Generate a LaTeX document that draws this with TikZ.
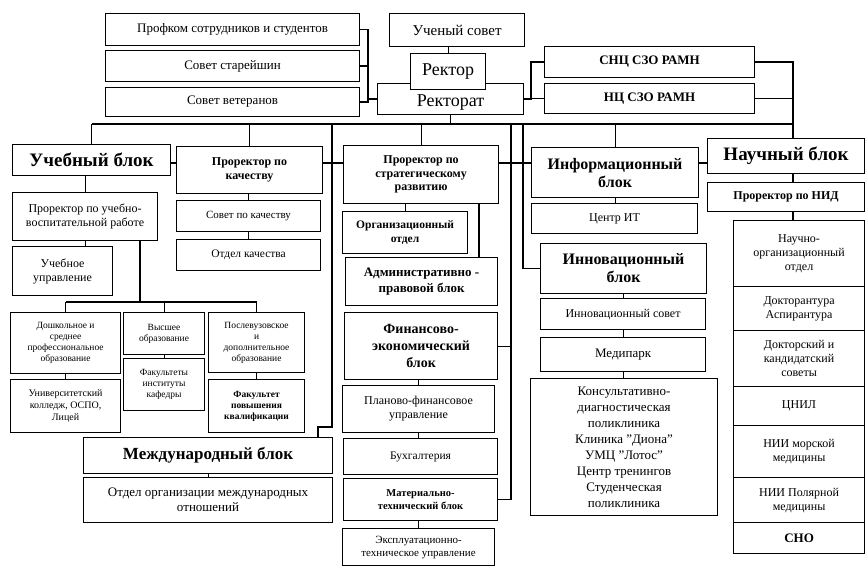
\documentclass[tikz,border=0pt]{standalone}
\usepackage{fontspec}
\setmainfont{Liberation Serif}
\tikzset{
  box/.style={draw, line width=1.1pt, align=center, anchor=north west, inner sep=1pt, font=\fontsize{12}{14}\selectfont},
  wh/.style 2 args={minimum width=#1pt, minimum height=#2pt},
  ln/.style={line width=1.1pt},
  top/.style={font=\fontsize{13}{15}\selectfont},
  big/.style={font=\bfseries\fontsize{19}{21}\selectfont},
  mid/.style={font=\bfseries\fontsize{16}{18}\selectfont},
  bsm/.style={font=\bfseries\fontsize{12}{13.5}\selectfont},
  sml/.style={font=\fontsize{9.5}{11}\selectfont}
}
\begin{document}
\begin{tikzpicture}[x=1pt,y=-1pt]
\useasboundingbox (0,0) rectangle (866,567);
%\draw[step=50,gray,very thin] (0,0) grid (866,567);
\node[box,wh={254}{32},top] (profkom) at (105,13) {Профком сотрудников и студентов};
\node[box,wh={254}{31},top] (starejshin) at (105,50) {Совет старейшин};
\node[box,wh={254}{29},top] (veteran) at (105,87) {Совет ветеранов};
\node[box,wh={135}{33},font=\fontsize{15}{17}\selectfont] (uchsovet) at (389,13) {Ученый совет};
\node[box,wh={146}{31},text height=15pt,text depth=0pt,font=\fontsize{18}{20}\selectfont] (rektorat) at (377,83) {Ректорат};
\node[box,wh={75}{36},fill=white,font=\fontsize{18}{20}\selectfont] (rektor) at (410,53) {Ректор};
\node[box,wh={210}{31},font=\bfseries\fontsize{13}{15}\selectfont] (sncszo) at (544,46) {СНЦ СЗО РАМН};
\node[box,wh={210}{30},font=\bfseries\fontsize{13}{15}\selectfont] (ncszo) at (544,83) {НЦ СЗО РАМН};

\node[box,wh={158}{31},big] (uchblok) at (12,144) {Учебный блок};
\node[box,wh={146}{47},bsm] (kachestvo) at (176,146) {Проректор по\\качеству};
\node[box,wh={155}{58},bsm] (strateg) at (343,145) {Проректор по\\стратегическому\\развитию};
\node[box,wh={167}{50},mid] (inform) at (531,147) {Информационный\\блок};
\node[box,wh={157}{35},big] (nauchblok) at (707,138) {Научный блок};

\node[box,wh={145}{48}] (uvr) at (12,192) {Проректор по учебно-\\воспитательной работе};
\node[box,wh={100}{49}] (uchupr) at (12,246) {Учебное\\управление};
\node[box,wh={144}{31},font=\fontsize{11}{13}\selectfont] (sovkach) at (176,200) {Совет по качеству};
\node[box,wh={144}{31},font=\fontsize{11.5}{13}\selectfont] (otdkach) at (176,239) {Отдел качества};
\node[box,wh={125}{42},font=\bfseries\fontsize{11.5}{14}\selectfont] (orgotd) at (342,211) {Организационный\\отдел};
\node[box,wh={152}{48},font=\bfseries\fontsize{13}{16}\selectfont] (admblok) at (345,257) {Административно -\\правовой блок};
\node[box,wh={153}{67},font=\bfseries\fontsize{14}{17}\selectfont] (finblok) at (344,312) {Финансово-\\экономический\\блок};
\node[box,wh={152}{47}] (planfin) at (342,385) {Планово-финансовое\\управление};
\node[box,wh={154}{36},font=\fontsize{11.5}{13}\selectfont] (buhgal) at (343,438) {Бухгалтерия};
\node[box,wh={154}{42},font=\bfseries\fontsize{10.5}{13}\selectfont] (mattech) at (343,478) {Материально-\\технический блок};
\node[box,wh={152}{37},font=\fontsize{11}{13}\selectfont] (ekspl) at (342,528) {Эксплуатационно-\\техническое управление};

\node[box,wh={166}{30}] (centrit) at (531,203) {Центр ИТ};
\node[box,wh={166}{50},mid] (innov) at (540,243) {Инновационный\\блок};
\node[box,wh={165}{31}] (innsovet) at (540,298) {Инновационный совет};
\node[box,wh={165}{34},font=\fontsize{13}{15}\selectfont] (medipark) at (540,337) {Медипарк};
\node[box,wh={187}{137},font=\fontsize{13}{16}\selectfont] (konsult) at (530,378) {Консультативно-\\диагностическая\\поликлиника\\Клиника "Диона"\\УМЦ "Лотос"\\Центр тренингов\\Студенческая\\поликлиника};

\node[box,wh={157}{29},bsm] (nid) at (707,182) {Проректор по НИД};
\node[box,wh={131}{66}] (nauchorg) at (733,220) {Научно-\\организационный\\отдел};
\node[box,wh={131}{44}] (doktorant) at (733,286) {Докторантура\\Аспирантура};
\node[box,wh={131}{56}] (dissovet) at (733,330) {Докторский и\\кандидатский\\советы};
\node[box,wh={131}{39}] (cnil) at (733,386) {ЦНИЛ};
\node[box,wh={131}{52}] (niimor) at (733,425) {НИИ морской\\медицины};
\node[box,wh={131}{45}] (niipol) at (733,477) {НИИ Полярной\\медицины};
\node[box,wh={131}{31},font=\bfseries\fontsize{13}{15}\selectfont] (sno) at (733,522) {СНО};

\node[box,wh={110}{61},sml] (doshk) at (10,312) {Дошкольное и\\среднее\\профессиональное\\образование};
\node[box,wh={81}{42},sml] (vysshee) at (123,312) {Высшее\\образование};
\node[box,wh={96}{60},sml] (poslevuz) at (208,312) {Послевузовское\\и\\дополнительное\\образование};
\node[box,wh={110}{53},font=\fontsize{10}{12}\selectfont] (kolledzh) at (10,379) {Университетский\\колледж, ОСПО,\\Лицей};
\node[box,wh={81}{52},sml] (fakult) at (123,358) {Факультеты\\институты\\кафедры};
\node[box,wh={96}{53},font=\bfseries\fontsize{9.5}{11}\selectfont] (fpk) at (208,379) {Факультет\\повышения\\квалификации};
\node[box,wh={249}{36},font=\bfseries\fontsize{17}{19}\selectfont] (mezhdblok) at (83,437) {Международный блок};
\node[box,wh={249}{45},font=\fontsize{13}{15}\selectfont] (otdmezhd) at (83,477) {Отдел организации международных\\отношений};

\coordinate (brk) at (368,0);
\coordinate (spl) at (531,0);
\coordinate (rbus) at (793,0);
\coordinate (bus) at (0,124);
\coordinate (row) at (0,163);
\coordinate (lv) at (332,0);
\coordinate (mv) at (511,0);
\coordinate (iv) at (523,0);
\coordinate (av) at (479,0);
\coordinate (ev) at (140,302);
\coordinate (lk) at (318,427);

% top
\draw[ln] (profkom.east) -- (profkom.east -| brk) -- (brk |- veteran.east) -- (veteran.east);
\draw[ln] (starejshin.east) -- (starejshin.east -| brk);
\draw[ln] (rektorat.west) -- (rektorat.west -| brk);
\draw[ln] (uchsovet.south -| rektor) -- (rektor.north);
\draw[ln] (rektorat.east) -- (rektorat.east -| spl) |- (sncszo.west);
\draw[ln] (ncszo.west) -- (ncszo.west -| spl);
\draw[ln] (sncszo.east) -| (rbus |- nauchblok.north);
\draw[ln] (ncszo.east) -- (ncszo.east -| rbus);
\draw[ln] (rektorat.south) -- (rektorat.south |- bus);
\draw[ln] (bus -| uchblok.north) -- (bus -| rbus);
\draw[ln] (uchblok.north) -- (uchblok.north |- bus);
\draw[ln] (kachestvo.north) -- (kachestvo.north |- bus);
\draw[ln] (strateg.north) -- (strateg.north |- bus);
\draw[ln] (inform.north) -- (inform.north |- bus);
\draw[ln] (uchblok.east |- row) -- (kachestvo.west |- row);
\draw[ln] (kachestvo.east |- row) -- (strateg.west |- row);
\draw[ln] (strateg.east |- row) -- (inform.west |- row);
\draw[ln] (inform.east |- row) -- (nauchblok.west |- row);

% left
\draw[ln] (uvr.north) -- (uvr.north |- uchblok.south);
\draw[ln] (uvr.south) -- (uvr.south |- uchupr.north);
\draw[ln] (uvr.south -| ev) -- (ev);
\draw[ln] (ev -| doshk.north) -- (ev -| poslevuz.north);
\draw[ln] (doshk.north) -- (doshk.north |- ev);
\draw[ln] (vysshee.north) -- (vysshee.north |- ev);
\draw[ln] (poslevuz.north) -- (poslevuz.north |- ev);
\draw[ln] (doshk.south) -- (kolledzh.north);
\draw[ln] (vysshee.south) -- (fakult.north);
\draw[ln] (poslevuz.south) -- (fpk.north);
\draw[ln] (sovkach.north) -- (sovkach.north |- kachestvo.south);
\draw[ln] (sovkach.south) -- (otdkach.north);
\draw[ln] (bus -| lv) -- (lv |- lk) -- (lk) -- (lk |- mezhdblok.north);
\draw[ln] (mezhdblok.south) -- (otdmezhd.north);

% middle
\draw[ln] (orgotd.north) -- (orgotd.north |- strateg.south);
\draw[ln] (strateg.south -| av) -- (admblok.north -| av);
\draw[ln] (bus -| mv) |- (mattech.east);
\draw[ln] (finblok.east) -- (finblok.east -| mv);
\draw[ln] (planfin.north) -- (planfin.north |- finblok.south);
\draw[ln] (planfin.south) -- (planfin.south |- buhgal.north);
\draw[ln] (ekspl.north) -- (ekspl.north |- mattech.south);

% right
\draw[ln] (bus -| iv) |- (innov.west);
\draw[ln] (inform.south) -- (inform.south |- centrit.north);
\draw[ln] (innov.south) -- (innov.south |- innsovet.north);
\draw[ln] (innsovet.south) -- (innsovet.south |- medipark.north);
\draw[ln] (medipark.south) -- (medipark.south |- konsult.north);
\draw[ln] (rbus |- nauchblok.south) -- (rbus |- nid.north);
\draw[ln] (rbus |- nid.south) -- (rbus |- nauchorg.north);
\end{tikzpicture}
\end{document}
